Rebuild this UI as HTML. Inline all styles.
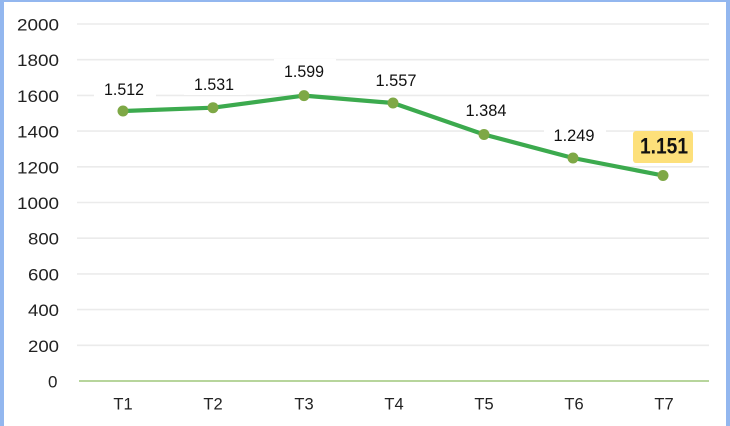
<!DOCTYPE html>
<html><head><meta charset="utf-8"><style>
html,body{margin:0;padding:0;background:#fff;}
body{width:730px;height:426px;overflow:hidden;position:relative;}
svg{position:absolute;left:0;top:0;}
</style></head><body>
<svg width="730" height="426" viewBox="0 0 730 426" xmlns="http://www.w3.org/2000/svg">
<rect x="0" y="0" width="730" height="426" fill="#fff"/>
<!-- border -->
<rect x="0" y="0" width="4" height="426" fill="#93b7ef"/>
<rect x="0" y="0" width="730" height="2" fill="#93b7ef"/>
<rect x="726" y="0" width="4" height="426" fill="#93b7ef"/>
<!-- gridlines -->
<g stroke="#ebebeb" stroke-width="1.6">
<line x1="77" y1="24" x2="709" y2="24"/>
<line x1="77" y1="59.7" x2="709" y2="59.7"/>
<line x1="77" y1="95.4" x2="709" y2="95.4"/>
<line x1="77" y1="131.1" x2="709" y2="131.1"/>
<line x1="77" y1="166.8" x2="709" y2="166.8"/>
<line x1="77" y1="202.5" x2="709" y2="202.5"/>
<line x1="77" y1="238.2" x2="709" y2="238.2"/>
<line x1="77" y1="273.9" x2="709" y2="273.9"/>
<line x1="77" y1="309.6" x2="709" y2="309.6"/>
<line x1="77" y1="345.3" x2="709" y2="345.3"/>
</g>
<line x1="79" y1="381" x2="709" y2="381" stroke="#b7d59c" stroke-width="2"/>
<!-- y labels -->
<g font-family="Liberation Sans, sans-serif" font-size="17" fill="#222">
<text x="17" y="30.5" textLength="42" lengthAdjust="spacingAndGlyphs">2000</text>
<text x="17" y="66.2" textLength="42" lengthAdjust="spacingAndGlyphs">1800</text>
<text x="17" y="101.9" textLength="42" lengthAdjust="spacingAndGlyphs">1600</text>
<text x="17" y="137.6" textLength="42" lengthAdjust="spacingAndGlyphs">1400</text>
<text x="17" y="173.3" textLength="42" lengthAdjust="spacingAndGlyphs">1200</text>
<text x="17" y="209" textLength="42" lengthAdjust="spacingAndGlyphs">1000</text>
<text x="28" y="244.7" textLength="31" lengthAdjust="spacingAndGlyphs">800</text>
<text x="28" y="280.4" textLength="31" lengthAdjust="spacingAndGlyphs">600</text>
<text x="28" y="316.1" textLength="31" lengthAdjust="spacingAndGlyphs">400</text>
<text x="28" y="351.8" textLength="31" lengthAdjust="spacingAndGlyphs">200</text>
<text x="48" y="387.5">0</text>
</g>
<!-- x labels -->
<g font-family="Liberation Sans, sans-serif" font-size="16.5" fill="#222" text-anchor="middle">
<text x="123" y="409.5">T1</text>
<text x="213" y="409.5">T2</text>
<text x="304" y="409.5">T3</text>
<text x="394" y="409.5">T4</text>
<text x="484" y="409.5">T5</text>
<text x="574" y="409.5">T6</text>
<text x="664" y="409.5">T7</text>
</g>
<!-- label backgrounds -->
<g fill="#fff">
<rect x="94" y="77" width="62" height="23"/>
<rect x="184" y="72" width="62" height="23"/>
<rect x="274" y="59" width="62" height="23"/>
<rect x="365" y="68" width="62" height="23"/>
<rect x="455" y="99" width="62" height="23"/>
<rect x="544" y="124" width="62" height="23"/>
</g>
<!-- series line -->
<polyline points="123,111 213,107.7 304,95.6 393,103 484,134.5 573,158 663,175.5" fill="none" stroke="#3caa4e" stroke-width="4.2" stroke-linejoin="round" stroke-linecap="round"/>
<g fill="#7ea846">
<circle cx="123" cy="111" r="5.5"/>
<circle cx="213" cy="107.7" r="5.5"/>
<circle cx="304" cy="95.6" r="5.5"/>
<circle cx="393" cy="103" r="5.5"/>
<circle cx="484" cy="134.5" r="5.5"/>
<circle cx="573" cy="158" r="5.5"/>
<circle cx="663" cy="175.5" r="5.5"/>
</g>
<!-- data labels -->
<g font-family="Liberation Sans, sans-serif" font-size="17" fill="#111">
<text x="104" y="95" textLength="40" lengthAdjust="spacingAndGlyphs">1.512</text>
<text x="194" y="90" textLength="40" lengthAdjust="spacingAndGlyphs">1.531</text>
<text x="284" y="77" textLength="40" lengthAdjust="spacingAndGlyphs">1.599</text>
<text x="375.5" y="86" textLength="41" lengthAdjust="spacingAndGlyphs">1.557</text>
<text x="465.5" y="116" textLength="41" lengthAdjust="spacingAndGlyphs">1.384</text>
<text x="553.5" y="141" textLength="41" lengthAdjust="spacingAndGlyphs">1.249</text>
</g>
<rect x="633" y="131" width="60" height="32" rx="3" fill="#fde07a"/>
<text x="640" y="153.5" font-family="Liberation Sans, sans-serif" font-weight="bold" font-size="22.5" fill="#111" textLength="48" lengthAdjust="spacingAndGlyphs">1.151</text>
</svg>
</body></html>
